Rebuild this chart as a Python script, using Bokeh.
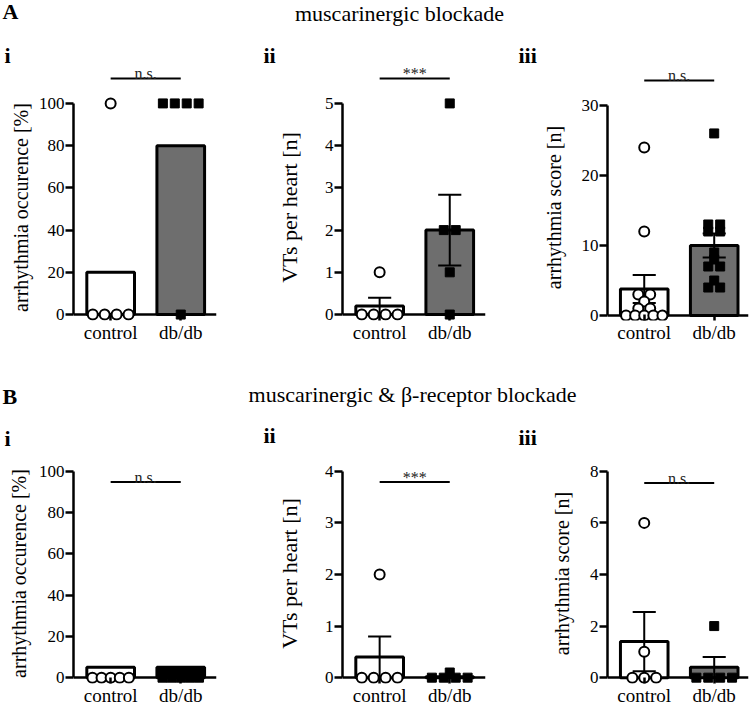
from bokeh.plotting import figure
from bokeh.models import Range1d, FixedTicker
from bokeh.layouts import column, row
from bokeh.embed import file_html
from bokeh.resources import INLINE
from bokeh.core.properties import value

# ---------------- data ----------------
groups = ["control", "db/db"]

a1_control = [100, 0, 0, 0, 0]
a1_dbdb = [100, 100, 100, 100, 0]
a1_bar = [20, 80]
a1_sem = [0, 0]

a2_control = [1, 0, 0, 0, 0]
a2_dbdb = [5, 2, 2, 1, 0]
a2_bar = [0.2, 2.0]
a2_sem = [0.2, 0.84]

a3_control = [24, 12, 3, 3, 2, 1, 1, 0, 0, 0, 0, 0]
a3_dbdb = [26, 13, 13, 12, 12, 9, 8, 7, 7, 5, 4, 4]
a3_bar = [3.8, 10.0]
a3_sem = [2.0, 1.7]

b1_control = [0, 0, 0, 0, 0]
b1_dbdb = [0, 0, 0, 0, 0]
b1_bar = [5, 5]
b1_sem = [0, 0]

b2_control = [2, 0, 0, 0, 0]
b2_dbdb = [0.1, 0, 0, 0, 0]
b2_bar = [0.4, 0.02]
b2_sem = [0.4, 0]

b3_control = [6, 1, 0, 0, 0]
b3_dbdb = [2, 0, 0, 0, 0]
b3_bar = [1.4, 0.4]
b3_sem = [1.15, 0.4]

ticks_occ = [0, 20, 40, 60, 80, 100]
ticks_a2 = [0, 1, 2, 3, 4, 5]
ticks_a3 = [0, 10, 20, 30]
ticks_b2 = [0, 1, 2, 3, 4]
ticks_b3 = [0, 2, 4, 6, 8]

label_occ = "arrhythmia occurence [%]"
label_vt = "VTs per heart [n]"
label_score = "arrhythmia score [n]"

sig_labels = ["n.s.", "***", "n.s.", "n.s.", "***", "n.s."]
title_a = "muscarinergic blockade"
title_b = "muscarinergic & \u03b2-receptor blockade"
panel_letters = ["A", "B"]
sub_letters = ["i", "ii", "iii"]

# ---------------- layout helpers ----------------
FONT = "Liberation Serif"
GRAY = "#6e6e6e"
SIG_FONT = 16
SIG_LIFT = 5     # px between significance line and text baseline
BIG_SHIFT = 7    # baseline compensation for 22px header texts


def spread(vals, width=0.52, step=0.17):
    xs = [0.0] * len(vals)
    bins = {}
    for i, v in enumerate(vals):
        bins.setdefault(v, []).append(i)
    for v, idx in bins.items():
        k = len(idx)
        if k < 2:
            continue
        st = min(step, width / (k - 1))
        for j, i in enumerate(idx):
            xs[i] = (j - (k - 1) / 2.0) * st
    return xs


def header(h, y_top, items, shift):
    # y measured upward from the header's bottom edge (pixel units)
    f = figure(width=750, height=h, x_range=Range1d(0, 750), y_range=Range1d(0, h),
               x_axis_type=None, y_axis_type=None, toolbar_location=None,
               output_backend="svg", min_border=0, title=None)
    f.outline_line_color = None
    for txt, x, y, size, style, align in items:
        f.text(x=[x], y=[y_top + h - y + shift], text=[txt], text_font=value(FONT),
               text_font_size=value(size), text_font_style=style, text_align=align,
               text_baseline="alphabetic", text_color="black")
    return f


def sig_strip(w, h, left, fw, xr, line_y, sig, numeral, numeral_x, numeral_y):
    # strip above a panel; its x mapping continues the panel's x mapping over
    # the full width, y is in pixels from the strip bottom
    right = w - left - fw
    ppu = fw / float(xr[1] - xr[0])
    f = figure(width=w, height=h,
               x_range=Range1d(xr[0] - left / ppu, xr[1] + right / ppu),
               y_range=Range1d(0, h), x_axis_type=None, y_axis_type=None,
               toolbar_location=None, output_backend="svg", title=None, min_border=0)
    f.outline_line_color = None
    f.segment(x0=[1], y0=[line_y], x1=[2], y1=[line_y], line_color="black", line_width=2)
    f.text(x=[1.5], y=[line_y + SIG_LIFT], text=[sig], text_align="center",
           text_baseline="alphabetic", text_font=value(FONT),
           text_font_size=value("%dpx" % SIG_FONT), text_color="#222222")
    f.text(x=[xr[0] - left / ppu + numeral_x / ppu], y=[numeral_y + BIG_SHIFT],
           text=[numeral], text_align="left", text_baseline="alphabetic",
           text_font=value(FONT), text_font_size=value("22px"), text_font_style="bold",
           text_color="black")
    return f


def panel(w, h, left, fw, fr_top, fr_bot, top_px, zero_px, ticks, ylabel,
          ylab_size, ylab_standoff, control, dbdb, bars, sems, db_fill, xr,
          sig=None, sig_y=None):
    right = w - left - fw
    fh = fr_bot - fr_top
    bottom = h - fh
    upp = ticks[-1] / float(zero_px - top_px)
    y_hi = (zero_px - fr_top) * upp
    y_lo = -(fr_bot - zero_px) * upp
    p = figure(width=w, height=h, x_range=Range1d(*xr), y_range=Range1d(y_lo, y_hi),
               output_backend="svg", toolbar_location=None, title=None,
               min_border_left=left, min_border_right=right, min_border_top=0,
               min_border_bottom=bottom)
    p.outline_line_color = None
    p.xgrid.visible = False
    p.ygrid.visible = False

    p.hspan(y=[0], line_color="black", line_width=2.5)

    xs = [1, 2]
    p.vbar(x=xs, top=bars, bottom=0, width=0.68, fill_color=["white", db_fill],
           line_color="black", line_width=3)

    x0, y0, x1, y1 = [], [], [], []
    for x, m, e in zip(xs, bars, sems):
        if e > 0:
            x0 += [x, x - 0.165, x - 0.165]
            x1 += [x, x + 0.165, x + 0.165]
            y0 += [m - e, m + e, m - e]
            y1 += [m + e, m + e, m - e]
    if x0:
        p.segment(x0=x0, y0=y0, x1=x1, y1=y1, line_color="black", line_width=2)

    cx = [1 + d for d in spread(control)]
    dx = [2 + d for d in spread(dbdb)]
    p.scatter(cx, control, marker="circle", size=10, fill_color="white",
              line_color="black", line_width=2)
    p.scatter(dx, dbdb, marker="square", size=9, fill_color="black",
              line_color="black", line_width=1)

    if sig is not None:
        p.segment(x0=[1], y0=[sig_y], x1=[2], y1=[sig_y], line_color="black", line_width=2)
        p.text(x=[1.5], y=[sig_y + SIG_LIFT * upp], text=[sig], text_align="center",
               text_baseline="alphabetic", text_font=value(FONT),
               text_font_size=value("%dpx" % SIG_FONT), text_color="#222222")

    yax = p.yaxis[0]
    yax.ticker = FixedTicker(ticks=ticks)
    yax.bounds = (0, ticks[-1])
    yax.axis_line_width = 2.5
    yax.major_tick_line_width = 2.5
    yax.major_tick_out = 8
    yax.major_tick_in = 0
    yax.minor_tick_line_color = None
    yax.major_label_standoff = 1
    yax.major_label_text_font = FONT
    yax.major_label_text_font_size = "17px"
    yax.major_label_text_color = "black"
    yax.axis_label = ylabel
    yax.axis_label_text_font = FONT
    yax.axis_label_text_font_style = "normal"
    yax.axis_label_text_font_size = ylab_size
    yax.axis_label_text_color = "black"
    yax.axis_label_standoff = ylab_standoff

    xax = p.xaxis[0]
    xax.ticker = FixedTicker(ticks=xs)
    xax.major_label_overrides = {1: groups[0], 2: groups[1]}
    xax.axis_line_color = None
    xax.major_tick_in = 6
    xax.major_tick_out = 0
    xax.major_tick_line_width = 2.5
    xax.minor_tick_line_color = None
    xax.major_label_standoff = 1
    xax.major_label_text_font = FONT
    xax.major_label_text_font_size = "19px"
    xax.major_label_text_color = "black"
    return p


# ---------------- assemble ----------------
hA = header(40, 0, [
    (panel_letters[0], 2, 18, "22px", "bold", "left"),
    (title_a, 399, 20, "22px", "normal", "center"),
], BIG_SHIFT)
hB = header(118, 345, [
    (panel_letters[1], 2, 404, "22px", "bold", "left"),
    (title_b, 412, 402, "22px", "normal", "center"),
    (sub_letters[0], 4, 446, "22px", "bold", "left"),
    (sub_letters[1], 263, 443, "22px", "bold", "left"),
    (sub_letters[2], 518, 445, "22px", "bold", "left"),
], BIG_SHIFT + 1)

XR = (0.47, 2.51)
XR3 = (0.475, 2.49)

# strips above row A (ref y 40..94): sub-panel numeral + significance bar
sA1 = sig_strip(250, 54, 73, 143, XR, 94 - 78, sig_labels[0], sub_letters[0], 4, 94 - 62)
sA2 = sig_strip(250, 54, 92, 143, XR, 94 - 78, sig_labels[1], sub_letters[1], 13, 94 - 62)
sA3 = sig_strip(250, 54, 107, 141, XR3, 94 - 80, sig_labels[2], sub_letters[2], 18, 94 - 62)

pA1 = panel(250, 251, 73, 143, 94, 322, 103, 316, ticks_occ, label_occ, "20px", 4,
            a1_control, a1_dbdb, a1_bar, a1_sem, GRAY, XR)
pA2 = panel(250, 251, 92, 143, 94, 322, 103, 316, ticks_a2, label_vt, "22px", 20,
            a2_control, a2_dbdb, a2_bar, a2_sem, GRAY, XR)
pA3 = panel(250, 251, 107, 141, 94, 322, 105, 317, ticks_a3, label_score, "20px", 14,
            a3_control, a3_dbdb, a3_bar, a3_sem, GRAY, XR3)

pB1 = panel(250, 245, 73, 143, 463, 689, 471, 683, ticks_occ, label_occ, "20px", 6,
            b1_control, b1_dbdb, b1_bar, b1_sem, "black", XR, sig_labels[3], 94.8)
pB2 = panel(250, 245, 92, 143, 463, 689, 471, 683, ticks_b2, label_vt, "22px", 20,
            b2_control, b2_dbdb, b2_bar, b2_sem, GRAY, XR, sig_labels[4], 3.79)
pB3 = panel(250, 245, 107, 141, 463, 689, 471, 683, ticks_b3, label_score, "20px", 14,
            b3_control, b3_dbdb, b3_bar, b3_sem, GRAY, XR3, sig_labels[5], 7.55)

layout = column(hA, row(sA1, sA2, sA3), row(pA1, pA2, pA3), hB, row(pB1, pB2, pB3))

with open("out.html", "w") as fh:
    fh.write(file_html(layout, INLINE))
